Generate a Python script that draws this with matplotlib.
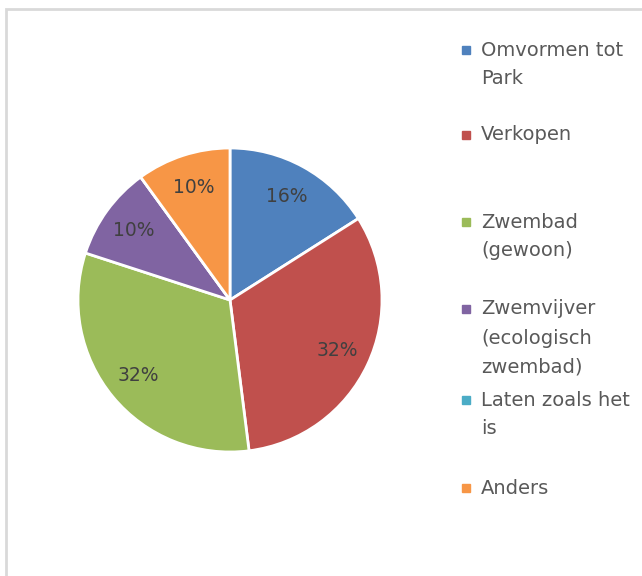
import matplotlib
matplotlib.use("Agg")
import matplotlib.pyplot as plt
from matplotlib.patches import Rectangle

# Data
labels = ["Omvormen tot\nPark", "Verkopen", "Zwembad\n(gewoon)",
          "Zwemvijver\n(ecologisch\nzwembad)", "Laten zoals het\nis", "Anders"]
values = [16, 32, 32, 10, 0, 10]
colors = ["#4F81BD", "#C0504D", "#9BBB59", "#8064A2", "#4BACC6", "#F79646"]

plt.rcParams['font.family'] = ['DejaVu Sans']

W, H = 642, 576
fig = plt.figure(figsize=(W / 100, H / 100), dpi=100)

# light grey chart border (clipped on right/bottom like the screenshot)
fig.patches.append(Rectangle((6 / W, -0.1), 1.2, 1 - 9 / H + 0.1,
                             transform=fig.transFigure, fill=False,
                             edgecolor="#d9d9d9", lw=2))

# pie centred at (230, 300) px, radius 152 px
r = 152
ax = fig.add_axes([(230 - r) / W, (H - 300 - r) / H, 2 * r / W, 2 * r / H])


def pct(p):
    return "" if p < 0.5 else "%d%%" % round(p)


wedges, texts, autotexts = ax.pie(values, colors=colors, startangle=90,
                                  counterclock=False, autopct=pct,
                                  pctdistance=0.78, radius=1,
                                  wedgeprops=dict(edgecolor="white", linewidth=2))
for t in autotexts:
    t.set_color("#404040")
    t.set_fontsize(13.5)
ax.set_xlim(-1, 1)
ax.set_ylim(-1, 1)
ax.set_aspect("auto")
ax.axis("off")

# legend drawn by hand to match the wrapped layout
entry_y = [50, 135, 222, 309, 400, 488]
line_h = 29
for lab, col, y in zip(labels, colors, entry_y):
    fig.patches.append(Rectangle(((466 - 4) / W, 1 - (y + 4) / H), 8 / W, 8 / H,
                                 transform=fig.transFigure, color=col))
    for i, line in enumerate(lab.split("\n")):
        fig.text(481 / W, 1 - (y + i * line_h) / H, line, fontsize=14,
                 color="#595959", va="center", ha="left")

fig.savefig("out.png", dpi=100)
